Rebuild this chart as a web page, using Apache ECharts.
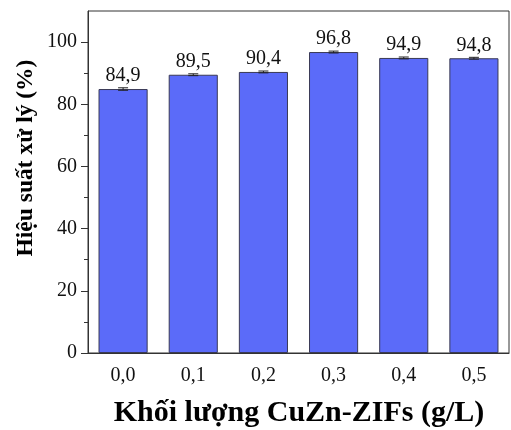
<!DOCTYPE html>
<html><head><meta charset="utf-8">
<script src="https://cdn.jsdelivr.net/npm/echarts@6/dist/echarts.min.js"></script>
<style>html,body{margin:0;padding:0;background:#fff}#c{width:511px;height:430px}</style>
</head><body><div id="c"></div>
<script>
const categories = ['0,0','0,1','0,2','0,3','0,4','0,5'];
const values = [84.9, 89.5, 90.4, 96.8, 94.9, 94.8];
const errors = [0.4, 0.3, 0.3, 0.3, 0.3, 0.3];
const yMajorTicks = [0, 20, 40, 60, 80, 100];
const yMinorTicks = [10, 30, 50, 70, 90];
const xTitle = 'Khối lượng CuZn-ZIFs (g/L)';
const yTitle = 'Hiệu suất xử lý (%)';

const serif = 'Liberation Serif';
const chart = echarts.init(document.getElementById('c'));
chart.setOption({
  animation: false,
  grid: {left: 88, right: 2, top: 11, bottom: 77, show: true, borderColor: '#333', borderWidth: 1},
  xAxis: {
    type: 'category', data: categories,
    axisLine: {lineStyle: {color: '#333', width: 1}},
    axisTick: {alignWithLabel: true, length: 7, lineStyle: {color: '#333'}},
    axisLabel: {fontFamily: serif, fontSize: 20, color: '#111', margin: 13}
  },
  yAxis: [{
    type: 'value', min: 0, max: 110, interval: 10,
    axisLine: {show: true, lineStyle: {color: '#333', width: 1}},
    axisTick: {show: true, length: 7, customValues: yMajorTicks, lineStyle: {color: '#333'}},
    axisLabel: {fontFamily: serif, fontSize: 20, color: '#111', margin: 11, customValues: yMajorTicks},
    splitLine: {show: false}
  }, {
    type: 'value', min: 0, max: 110, position: 'left',
    axisLine: {show: false},
    axisTick: {show: true, length: 4, customValues: yMinorTicks, lineStyle: {color: '#333'}},
    axisLabel: {show: false},
    splitLine: {show: false}
  }],
  graphic: [
    {type: 'text', x: 299, y: 428, style: {text: xTitle, font: 'bold 30px "Liberation Serif"', fill: '#000', textAlign: 'center', textVerticalAlign: 'bottom'}},
    {type: 'text', x: 26, y: 158, rotation: Math.PI / 2, style: {text: yTitle, font: 'bold 23.5px "Liberation Serif"', fill: '#000', textAlign: 'center', textVerticalAlign: 'middle'}}
  ],
  series: [{
    type: 'bar', data: values, barWidth: '70%',
    itemStyle: {color: '#5b6bf9', borderColor: '#3a3a55', borderWidth: 1},
    label: {show: true, position: 'top', distance: 3, fontFamily: serif, fontSize: 20, color: '#111',
      formatter: p => p.value.toFixed(1).replace('.', ',')}
  }, {
    type: 'custom',
    data: values.map((v, i) => [i, v, errors[i]]),
    z: 10,
    renderItem: (params, api) => {
      const i = api.value(0), v = api.value(1), e = api.value(2);
      const hi = api.coord([i, v + e]), lo = api.coord([i, v - e]);
      const hw = 5;
      const st = {stroke: '#222', lineWidth: 1};
      return {type: 'group', children: [
        {type: 'line', shape: {x1: hi[0], y1: hi[1], x2: lo[0], y2: lo[1]}, style: st},
        {type: 'line', shape: {x1: hi[0]-hw, y1: hi[1], x2: hi[0]+hw, y2: hi[1]}, style: st},
        {type: 'line', shape: {x1: lo[0]-hw, y1: lo[1], x2: lo[0]+hw, y2: lo[1]}, style: st}
      ]};
    }
  }]
});
</script></body></html>
